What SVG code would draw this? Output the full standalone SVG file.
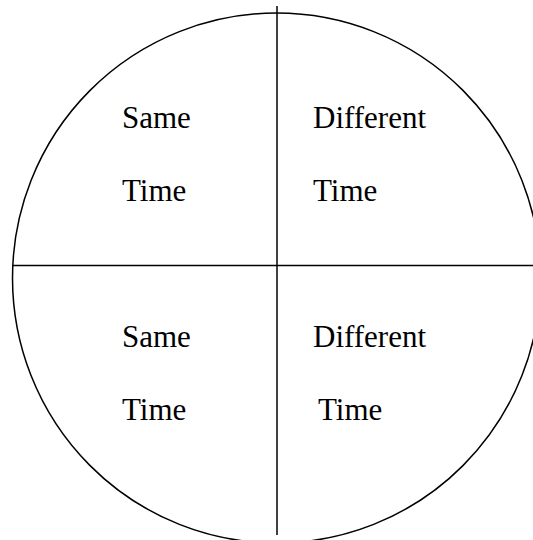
<svg xmlns="http://www.w3.org/2000/svg" width="533" height="540" viewBox="0 0 533 540">
<style>
.ln{stroke:#000;stroke-width:1.5;fill:none}
.t{font-family:"Liberation Serif","Times New Roman",serif;font-size:31px;fill:#000}
</style>
<rect width="533" height="540" fill="#fff"/>
<g id="connectors">
<ellipse class="ln" cx="276.5" cy="278" rx="264" ry="265"/>
<line class="ln" x1="13" y1="265.5" x2="533" y2="265.5"/>
<line class="ln" x1="277" y1="6" x2="277" y2="535"/>
</g>
<g id="q1"><text class="t" x="122" y="128">Same</text><text class="t" x="122" y="201">Time</text></g>
<g id="q2"><text class="t" x="313" y="128">Different</text><text class="t" x="313" y="201">Time</text></g>
<g id="q3"><text class="t" x="122" y="347">Same</text><text class="t" x="122" y="420">Time</text></g>
<g id="q4"><text class="t" x="313" y="347">Different</text><text class="t" x="318" y="420">Time</text></g>
</svg>
